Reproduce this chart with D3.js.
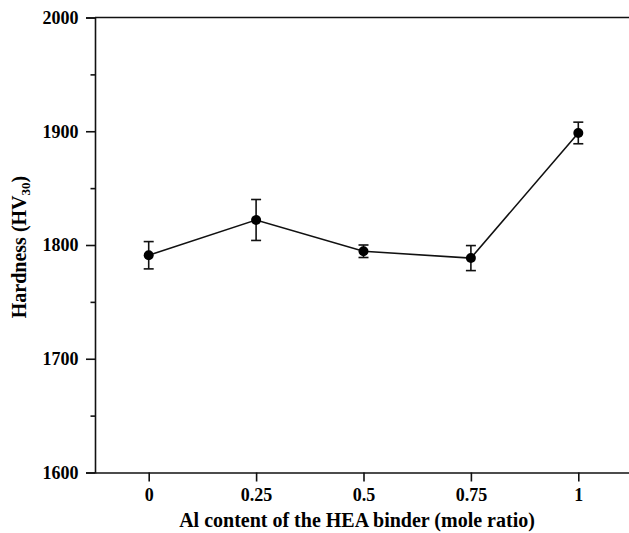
<!DOCTYPE html>
<html><head><meta charset="utf-8">
<script src="https://cdn.jsdelivr.net/npm/d3@7"></script>
<style>
body{margin:0;background:#fff;}
svg text{font-family:"Liberation Serif","Times New Roman","DejaVu Serif",serif !important;font-weight:bold;fill:#000;}
</style></head>
<body>
<svg id="c" width="629" height="533"></svg>
<script>
const categories = ["0", "0.25", "0.5", "0.75", "1"];
const hardness = [1791, 1822, 1794.5, 1788.5, 1898.5];
const errors = [12, 18, 5.5, 11, 9.5];
const yTicks = [1600, 1700, 1800, 1900, 2000];
const yMinorTicks = [1650, 1750, 1850, 1950];

(function () {
const svg = d3.select("#c");
const mLeft = 95, mRight = 632, mTop = 17.5, mBottom = 472.5;

const x = d3.scaleLinear().domain([-0.5, categories.length - 0.5]).range([mLeft, mRight]);
const y = d3.scaleLinear().domain([1600, 2000]).range([mBottom, mTop]);

const axisColor = "#111";
svg.append("line").attr("x1", mLeft).attr("x2", 629).attr("y1", mTop).attr("y2", mTop)
  .attr("stroke", axisColor).attr("stroke-width", 1.6);

const yAxis = d3.axisLeft(y).tickValues(yTicks).tickSize(9).tickPadding(7.5).tickFormat(d3.format("d"));
const gy = svg.append("g").attr("transform", `translate(${mLeft},0)`).call(yAxis);
gy.attr("font-family", null);
gy.select(".domain").attr("stroke", axisColor).attr("stroke-width", 1.6);
gy.selectAll(".tick line").attr("stroke", axisColor).attr("stroke-width", 1.6);
gy.selectAll(".tick text").style("font-size", "18px");

const yMinor = d3.axisLeft(y).tickValues(yMinorTicks).tickSize(4.5).tickFormat("");
const gym = svg.append("g").attr("transform", `translate(${mLeft},0)`).call(yMinor);
gym.select(".domain").remove();
gym.selectAll(".tick line").attr("stroke", axisColor).attr("stroke-width", 1.6);

const xAxis = d3.axisBottom(x).tickValues(d3.range(categories.length)).tickFormat(i => categories[i]).tickSize(9).tickPadding(7).tickSizeOuter(0);
const gx = svg.append("g").attr("transform", `translate(0,${mBottom})`).call(xAxis);
gx.attr("font-family", null);
gx.select(".domain").attr("stroke", axisColor).attr("stroke-width", 1.6);
gx.selectAll(".tick line").attr("stroke", axisColor).attr("stroke-width", 1.6);
gx.selectAll(".tick text").style("font-size", "18px");

const line = d3.line().x((d, i) => x(i)).y(d => y(d));
svg.append("path").datum(hardness).attr("d", line)
  .attr("fill", "none").attr("stroke", "#111").attr("stroke-width", 1.6);

const eb = svg.append("g").attr("stroke", "#111").attr("stroke-width", 1.6);
hardness.forEach((v, i) => {
  const cx = x(i), y1 = y(v + errors[i]), y2 = y(v - errors[i]);
  eb.append("line").attr("x1", cx).attr("x2", cx).attr("y1", y1).attr("y2", y2);
  eb.append("line").attr("x1", cx - 5).attr("x2", cx + 5).attr("y1", y1).attr("y2", y1);
  eb.append("line").attr("x1", cx - 5).attr("x2", cx + 5).attr("y1", y2).attr("y2", y2);
});

svg.append("g").selectAll("circle").data(hardness).join("circle")
  .attr("cx", (d, i) => x(i)).attr("cy", d => y(d)).attr("r", 5).attr("fill", "#000");

svg.append("text").attr("x", 357).attr("y", 527).attr("text-anchor", "middle")
  .style("font-size", "20px").text("Al content of the HEA binder (mole ratio)");

const yt = svg.append("text").attr("transform", "translate(26,247) rotate(-90)")
  .attr("text-anchor", "middle").style("font-size", "20px");
yt.append("tspan").text("Hardness (HV");
yt.append("tspan").attr("dy", 4).style("font-size", "13px").text("30");
yt.append("tspan").attr("dy", -4).text(")");
})();
</script>
</body></html>
